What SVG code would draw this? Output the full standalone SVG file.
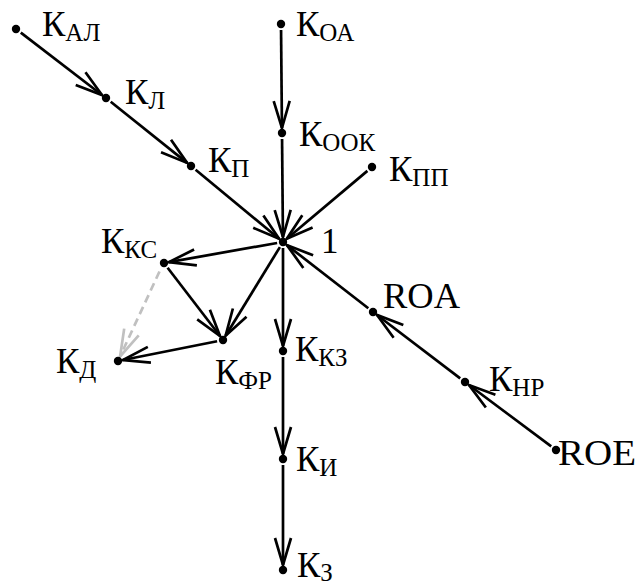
<svg xmlns="http://www.w3.org/2000/svg" width="638" height="585" viewBox="0 0 638 585">
<defs>
<style>
.e{fill:none;stroke:#000;stroke-width:2.7;marker-end:url(#a)}
.g{fill:none;stroke:#c0c0c0;stroke-width:2.7;stroke-dasharray:8,5;marker-end:url(#ag)}
.d{fill:#000}
.t{font-family:'Liberation Serif','Times New Roman',Times,serif;font-size:35px;fill:#000}
.s{font-size:25px}
</style>
<marker id="a" markerUnits="userSpaceOnUse" markerWidth="40" markerHeight="24" viewBox="0 0 40 24" refX="30" refY="12" orient="auto" overflow="visible">
<path d="M3,4 L30,12 L3,20" fill="none" stroke="#000" stroke-width="2.7"/>
</marker>
<marker id="ag" markerUnits="userSpaceOnUse" markerWidth="40" markerHeight="24" viewBox="0 0 40 24" refX="30" refY="12" orient="auto" overflow="visible">
<path d="M3,4 L30,12 L3,20" fill="none" stroke="#c0c0c0" stroke-width="2.7"/>
</marker>
</defs>
<rect width="638" height="585" fill="#fff"/>
<g id="connectors">
<line class="e" x1="20.8" y1="32.6" x2="102" y2="95"/>
<line class="e" x1="110.7" y1="101.7" x2="187.1" y2="162.9"/>
<line class="e" x1="195.6" y1="169.8" x2="279.1" y2="238.8"/>
<line class="e" x1="281.05" y1="30" x2="281.95" y2="128"/>
<line class="e" x1="282.05" y1="139" x2="282.95" y2="237"/>
<line class="e" x1="367.4" y1="170.9" x2="286.8" y2="238.8"/>
<line class="e" x1="551.2" y1="446.4" x2="469" y2="385"/>
<line class="e" x1="460.2" y1="378.4" x2="377" y2="315"/>
<line class="e" x1="368.3" y1="308.3" x2="286.9" y2="245.1"/>
<line class="e" x1="277.1" y1="243" x2="168.9" y2="262.1"/>
<line class="e" x1="279.9" y1="247.1" x2="225.6" y2="335.7"/>
<line class="e" x1="167.6" y1="267.8" x2="220" y2="336"/>
<line class="e" x1="217.1" y1="341.2" x2="122.9" y2="360"/>
<line class="g" x1="159.5" y1="271.5" x2="120.1" y2="356.5"/>
<line class="e" x1="283" y1="248" x2="283" y2="346"/>
<line class="e" x1="283" y1="357" x2="283" y2="454"/>
<line class="e" x1="283" y1="465" x2="283" y2="565"/>
</g>
<g class="t">
<g id="n-kal"><circle class="d" cx="16" cy="29" r="4.2"/><text x="42" y="36">К<tspan class="s" dy="5">АЛ</tspan></text></g>
<g id="n-kl"><circle class="d" cx="106" cy="98" r="4.2"/><text x="125" y="104">К<tspan class="s" dy="5">Л</tspan></text></g>
<g id="n-kp"><circle class="d" cx="191" cy="166" r="4.2"/><text x="208" y="172">К<tspan class="s" dy="5">П</tspan></text></g>
<g id="n-koa"><circle class="d" cx="281" cy="24" r="4.2"/><text x="296" y="36">К<tspan class="s" dy="5">ОА</tspan></text></g>
<g id="n-kook"><circle class="d" cx="282" cy="133" r="4.2"/><text x="299" y="146">К<tspan class="s" dy="5">ООК</tspan></text></g>
<g id="n-kpp"><circle class="d" cx="372" cy="167" r="4.2"/><text x="389" y="181">К<tspan class="s" dy="5">ПП</tspan></text></g>
<g id="n-1"><circle class="d" cx="283" cy="242" r="4.2"/><text x="321" y="253">1</text></g>
<g id="n-kks"><circle class="d" cx="164" cy="263" r="4.2"/><text x="101" y="253">К<tspan class="s" dy="5">КС</tspan></text></g>
<g id="n-kfr"><circle class="d" cx="223" cy="340" r="4.2"/><text x="215" y="384">К<tspan class="s" dy="5">ФР</tspan></text></g>
<g id="n-kd"><circle class="d" cx="118" cy="361" r="4.2"/><text x="56" y="373">К<tspan class="s" dy="5">Д</tspan></text></g>
<g id="n-kkz"><circle class="d" cx="283" cy="351" r="4.2"/><text x="295" y="361">К<tspan class="s" dy="5">КЗ</tspan></text></g>
<g id="n-roa"><circle class="d" cx="373" cy="312" r="4.2"/><text x="383" y="308" textLength="77" lengthAdjust="spacingAndGlyphs">ROA</text></g>
<g id="n-knr"><circle class="d" cx="465" cy="382" r="4.2"/><text x="489" y="391">К<tspan class="s" dy="5">НР</tspan></text></g>
<g id="n-roe"><circle class="d" cx="556" cy="450" r="4.2"/><text x="558" y="465" textLength="78" lengthAdjust="spacingAndGlyphs">ROE</text></g>
<g id="n-ki"><circle class="d" cx="283" cy="459" r="4.2"/><text x="296" y="471">К<tspan class="s" dy="5">И</tspan></text></g>
<g id="n-kz"><circle class="d" cx="283" cy="570" r="4.2"/><text x="297" y="577">К<tspan class="s" dy="4">З</tspan></text></g>
</g>
</svg>
